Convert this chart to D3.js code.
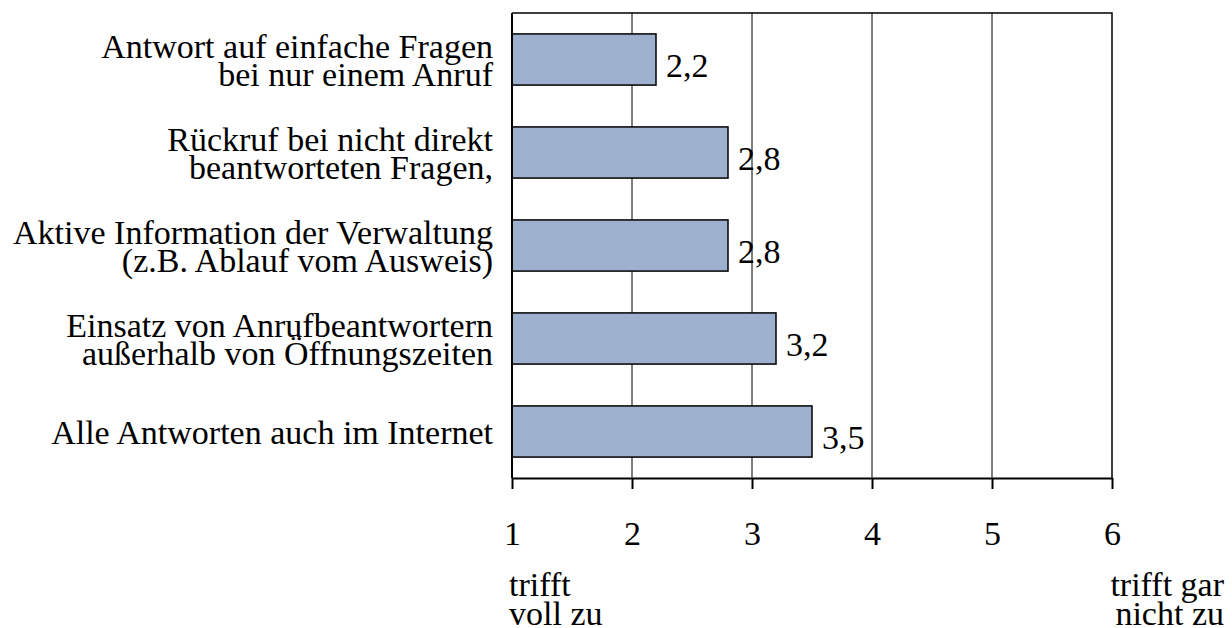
<!DOCTYPE html>
<html>
<head>
<meta charset="utf-8">
<script src="https://cdn.jsdelivr.net/npm/d3@7"></script>
<style>
  body { margin: 0; background: #fff; }
  svg text { font-family: "Liberation Serif", "Times New Roman", serif; fill: #000; }
</style>
</head>
<body>
<div id="chart"></div>
<script>
// categories (each entry split into its two label lines)
var categories = [
  ["Antwort auf einfache Fragen", "bei nur einem Anruf"],
  ["Rückruf bei nicht direkt", "beantworteten Fragen,"],
  ["Aktive Information der Verwaltung", "(z.B. Ablauf vom Ausweis)"],
  ["Einsatz von Anrufbeantwortern", "außerhalb von Öffnungszeiten"],
  ["Alle Antworten auch im Internet"]
];
var values = [2.2, 2.8, 2.8, 3.2, 3.5];
var xTicks = [1, 2, 3, 4, 5, 6];
var leftCaption = ["trifft", "voll zu"];
var rightCaption = ["trifft gar", "nicht zu"];

var W = 1232, H = 628;
var margin = { top: 13, right: 120, bottom: 150, left: 512 };
var width = W - margin.left - margin.right,
    height = H - margin.top - margin.bottom;

var x = d3.scaleLinear().domain([1, 6]).range([0, width]);
var y = d3.scaleBand()
  .domain(d3.range(categories.length))
  .range([0, height])
  .paddingInner(0.45)
  .paddingOuter(0.225);

var fmt = function(v) { return d3.format(".1f")(v).replace(".", ","); };

var svg = d3.select("#chart").append("svg")
  .attr("width", W)
  .attr("height", H);

var g = svg.append("g")
  .attr("transform", "translate(" + margin.left + "," + margin.top + ")");

// vertical grid lines
g.append("g")
  .selectAll("line")
  .data(xTicks.slice(1, -1))
  .join("line")
  .attr("x1", d => x(d)).attr("x2", d => x(d))
  .attr("y1", 0).attr("y2", height)
  .attr("stroke", "#000")
  .attr("stroke-width", 1);

// plot frame (top and right)
g.append("path")
  .attr("d", "M0,0H" + width + "V" + height)
  .attr("fill", "none")
  .attr("stroke", "#000")
  .attr("stroke-width", 1.5);

// bars
g.append("g")
  .selectAll("rect")
  .data(values)
  .join("rect")
  .attr("x", x(1))
  .attr("y", (d, i) => y(i))
  .attr("width", d => x(d) - x(1))
  .attr("height", y.bandwidth())
  .attr("fill", "#9db1cf")
  .attr("stroke", "#000")
  .attr("stroke-width", 1.5);

// value labels
g.append("g")
  .selectAll("text")
  .data(values)
  .join("text")
  .attr("x", d => x(d) + 10)
  .attr("y", (d, i) => y(i) + y.bandwidth() / 2 + 17.5)
  .attr("font-size", 34)
  .text(fmt);

// left axis line
g.append("line")
  .attr("x1", 0).attr("x2", 0)
  .attr("y1", 0).attr("y2", height)
  .attr("stroke", "#000")
  .attr("stroke-width", 2);

// bottom axis
var xAxis = d3.axisBottom(x)
  .tickValues(xTicks)
  .tickSize(11)
  .tickSizeOuter(0)
  .tickPadding(32)
  .tickFormat(d3.format("d"));

var ax = g.append("g")
  .attr("transform", "translate(0," + height + ")")
  .call(xAxis);
ax.select(".domain").attr("stroke-width", 2);
ax.selectAll(".tick line").attr("stroke-width", 2);
ax.selectAll(".tick text")
  .attr("font-size", 34)
  .attr("fill", "#000");

// category labels
var cat = g.append("g")
  .selectAll("text")
  .data(categories)
  .join("text")
  .attr("text-anchor", "end")
  .attr("font-size", 34)
  .attr("x", -19)
  .attr("y", (d, i) => y(i) + y.bandwidth() / 2);

cat.selectAll("tspan")
  .data(d => d.map(t => ({ t: t, n: d.length })))
  .join("tspan")
  .attr("x", -19)
  .attr("dy", (d, j) => j === 0 ? (12 - (d.n - 1) * 14) : 28)
  .text(d => d.t);

// scale end captions
var capY = H - margin.top - 32;

g.append("text")
  .attr("font-size", 34)
  .attr("y", capY)
  .selectAll("tspan")
  .data(leftCaption)
  .join("tspan")
  .attr("x", x(1) - 3)
  .attr("dy", (d, j) => j === 0 ? 0 : 29)
  .text(d => d);

g.append("text")
  .attr("font-size", 34)
  .attr("text-anchor", "end")
  .attr("y", capY)
  .selectAll("tspan")
  .data(rightCaption)
  .join("tspan")
  .attr("x", x(6) + 112)
  .attr("dy", (d, j) => j === 0 ? 0 : 29)
  .text(d => d);
</script>
</body>
</html>
